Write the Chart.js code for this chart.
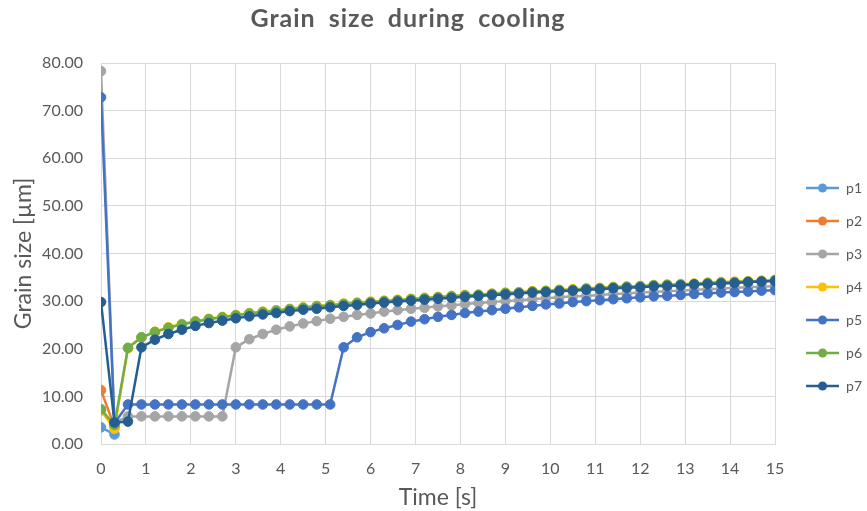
<!DOCTYPE html>
<html>
<head>
<meta charset="utf-8">
<title>Grain size during cooling</title>
<script src="https://cdn.jsdelivr.net/npm/chart.js@4"></script>
<style>
  html, body { margin: 0; padding: 0; background: #fff; }
  #wrap { width: 867px; height: 511px; position: relative; }
</style>
</head>
<body>
<div id="wrap"><canvas id="grainChart" width="867" height="511"></canvas></div>
<script>
/* ── Data ──────────────────────────────────────────────── */
const times = [
  0, 0.3, 0.6, 0.9, 1.2, 1.5, 1.8, 2.1, 2.4, 2.7,
  3, 3.3, 3.6, 3.9, 4.2, 4.5, 4.8, 5.1, 5.4, 5.7,
  6, 6.3, 6.6, 6.9, 7.2, 7.5, 7.8, 8.1, 8.4, 8.7,
  9, 9.3, 9.6, 9.9, 10.2, 10.5, 10.8, 11.1, 11.4, 11.7,
  12, 12.3, 12.6, 12.9, 13.2, 13.5, 13.8, 14.1, 14.4, 14.7, 15
];
const xTicks = [0, 1, 2, 3, 4, 5, 6, 7, 8, 9, 10, 11, 12, 13, 14, 15];
const yTicks = [0, 10, 20, 30, 40, 50, 60, 70, 80];

const p1 = [3.5, 2.0];
const p2 = [11.3, 3.6];
const p3 = [
  78.3, 4.5, 5.8, 5.8, 5.8, 5.8, 5.8, 5.8, 5.8, 5.8,
  20.3, 22.0, 23.1, 24.0, 24.7, 25.3, 25.8, 26.3, 26.7, 27.1,
  27.4, 27.8, 28.1, 28.4, 28.6, 28.9, 29.1, 29.4, 29.6, 29.8,
  30.0, 30.2, 30.4, 30.6, 30.8, 31.0, 31.1, 31.3, 31.5, 31.6,
  31.8, 31.9, 32.1, 32.2, 32.4, 32.5, 32.6, 32.8, 32.9, 33.0, 33.2
];
const p4 = [
  7.0, 3.2, 20.1, 22.4, 23.6, 24.5, 25.2, 25.8, 26.3, 26.7,
  27.1, 27.5, 27.8, 28.1, 28.4, 28.7, 29.0, 29.2, 29.5, 29.7,
  29.9, 30.1, 30.3, 30.5, 30.7, 30.9, 31.1, 31.3, 31.4, 31.6,
  31.8, 31.9, 32.1, 32.2, 32.4, 32.5, 32.7, 32.8, 33.0, 33.1,
  33.2, 33.4, 33.5, 33.6, 33.7, 33.9, 34.0, 34.1, 34.2, 34.3, 34.5
];
const p5 = [
  72.8, 4.4, 8.3, 8.3, 8.3, 8.3, 8.3, 8.3, 8.3, 8.3,
  8.3, 8.3, 8.3, 8.3, 8.3, 8.3, 8.3, 8.3, 20.3, 22.4,
  23.5, 24.3, 25.0, 25.7, 26.2, 26.7, 27.1, 27.5, 27.8, 28.1,
  28.4, 28.7, 29.0, 29.3, 29.5, 29.8, 30.0, 30.2, 30.4, 30.6,
  30.8, 31.0, 31.1, 31.3, 31.5, 31.6, 31.8, 31.9, 32.0, 32.2, 32.3
];
const p6 = [
  7.3, 4.0, 20.2, 22.4, 23.5, 24.4, 25.1, 25.7, 26.2, 26.6,
  27.0, 27.4, 27.7, 28.0, 28.3, 28.6, 28.9, 29.1, 29.4, 29.6,
  29.8, 30.0, 30.2, 30.4, 30.6, 30.8, 31.0, 31.2, 31.3, 31.5,
  31.7, 31.8, 32.0, 32.1, 32.3, 32.4, 32.6, 32.7, 32.9, 33.0,
  33.1, 33.3, 33.4, 33.5, 33.6, 33.8, 33.9, 34.0, 34.1, 34.2, 34.4
];
const p7 = [
  29.8, 4.5, 4.7, 20.3, 21.9, 23.1, 24.0, 24.8, 25.4, 25.9,
  26.4, 26.8, 27.2, 27.5, 27.9, 28.2, 28.4, 28.7, 29.0, 29.2,
  29.5, 29.7, 29.9, 30.1, 30.3, 30.5, 30.7, 30.9, 31.1, 31.3,
  31.4, 31.6, 31.8, 31.9, 32.1, 32.2, 32.4, 32.5, 32.7, 32.8,
  32.9, 33.1, 33.2, 33.3, 33.5, 33.6, 33.7, 33.8, 34.0, 34.1, 34.2
];

const seriesNames  = ['p1', 'p2', 'p3', 'p4', 'p5', 'p6', 'p7'];
const seriesValues = [p1, p2, p3, p4, p5, p6, p7];
const seriesColors = ['#5b9bd5', '#ed7d31', '#a5a5a5', '#ffc000', '#4472c4', '#70ad47', '#255e91'];

/* ── Legend icons (line with a dot, like Excel) ────────── */
// 12px blank gap on the left keeps the legend clear of the plot
function makeIcon(color) {
  const c = document.createElement('canvas');
  c.width = 45; c.height = 12;
  const g = c.getContext('2d');
  g.strokeStyle = color; g.lineWidth = 2.5;
  g.beginPath(); g.moveTo(12, 6); g.lineTo(45, 6); g.stroke();
  g.fillStyle = color;
  g.beginPath(); g.arc(28.5, 6, 4.5, 0, Math.PI * 2); g.fill();
  return c;
}
const legendIcons = seriesColors.map(makeIcon);

/* ── Title drawn over the plot, Excel style ────────────── */
const titlePlugin = {
  id: 'excelTitle',
  afterDraw(chart) {
    const ctx = chart.ctx;
    ctx.save();
    ctx.font = 'bold 25px Lato, "Open Sans", sans-serif';
    ctx.letterSpacing = '1px';
    ctx.wordSpacing = '6px';
    ctx.fillStyle = '#595959';
    ctx.textAlign = 'center';
    ctx.textBaseline = 'middle';
    ctx.fillText('Grain size during cooling', 408, 19);
    ctx.restore();
  }
};

/* ── Chart ─────────────────────────────────────────────── */
const datasets = seriesNames.map((name, i) => ({
  label: name,
  data: seriesValues[i].map((v, k) => ({ x: times[k], y: v })),
  borderColor: seriesColors[i],
  backgroundColor: seriesColors[i],
  borderWidth: 2.5,
  pointRadius: 4.8,
  pointBorderWidth: 1,
  pointHoverRadius: 4.8,
  tension: 0,
  order: seriesNames.length - i,
}));

new Chart(document.getElementById('grainChart'), {
  type: 'line',
  data: { datasets },
  plugins: [titlePlugin],
  options: {
    responsive: false,
    animation: false,
    layout: { padding: { top: 63, right: -5, bottom: 0, left: 10 } },
    plugins: {
      title: { display: false },
      tooltip: { enabled: false },
      legend: {
        position: 'right',
        reverse: true,
        labels: {
          usePointStyle: true,
          pointStyleWidth: 45,
          padding: 19,
          color: '#595959',
          font: { family: 'Lato', size: 14 },
          generateLabels(chart) {
            const items = Chart.defaults.plugins.legend.labels.generateLabels(chart);
            items.forEach(it => { it.pointStyle = legendIcons[it.datasetIndex]; });
            return items;
          }
        }
      }
    },
    scales: {
      x: {
        type: 'linear',
        min: 0,
        max: 15,
        afterBuildTicks(axis) { axis.ticks = xTicks.map(v => ({ value: v })); },
        afterFit(axis) { axis.height = 67; },
        grid: { color: '#d9d9d9', drawTicks: false },
        border: { color: '#d9d9d9' },
        ticks: { color: '#595959', font: { family: 'Lato', size: 16 }, padding: 15 },
        title: {
          display: true,
          text: 'Time [s]',
          color: '#595959',
          font: { family: 'Lato', size: 23 },
          padding: { top: 0, bottom: 0 }
        }
      },
      y: {
        min: 0,
        max: 80,
        afterBuildTicks(axis) { axis.ticks = yTicks.map(v => ({ value: v })); },
        afterFit(axis) { axis.width = 91; },
        grid: { color: '#d9d9d9', drawTicks: false },
        border: { display: false },
        ticks: {
          color: '#595959',
          font: { family: 'Lato', size: 16 },
          padding: 18,
          callback: v => v.toFixed(2)
        },
        title: {
          display: true,
          text: 'Grain size [µm]',
          color: '#595959',
          font: { family: 'Lato', size: 23 },
          padding: { top: 0, bottom: 4 }
        }
      }
    }
  }
});
</script>
</body>
</html>
